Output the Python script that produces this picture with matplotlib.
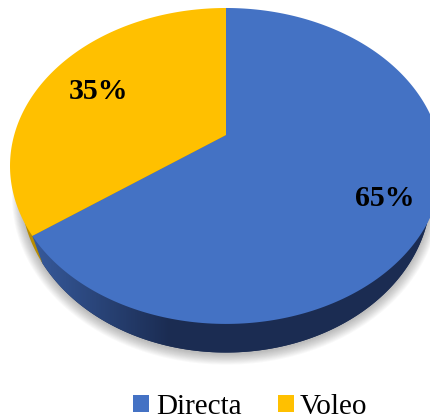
import matplotlib
matplotlib.use('Agg')
import matplotlib.pyplot as plt
from matplotlib.colors import LinearSegmentedColormap
from matplotlib.patches import Patch
import numpy as np

categories = ['Directa', 'Voleo']
values = [65, 35]
labels = ['65%', '35%']
colors = ['#4472c4', '#ffc000']
wall_colors = ['#1b2c52', '#b88c00']

# pie geometry in pixels, circle tilted in perspective
APEX_X, APEX_Y = 226, 135
K = 0.196
P = 151.9
Q = 211.8
# lower rim is a smaller ellipse pushed down
RIM_Y, RIM_P, RIM_Q = 160, 154.8, 201


def project(theta, cy=APEX_Y, p=P, q=Q):
    x = q * np.sin(theta) / (1 + K * np.cos(theta))
    y = p * np.cos(theta) / (1 + K * np.cos(theta))
    return APEX_X + x, cy - y


fig, ax = plt.subplots(figsize=(4.31, 4.19), dpi=100)
ax.set_position([0, 0, 1, 1])
ax.axis('off')

# soft shadow under the wall
circle = np.linspace(0, 2 * np.pi, 300)
for i in range(12):
    grow = 1.0 + 0.004 * (11 - i)
    sx, sy = project(circle, RIM_Y + 2 + 0.15 * (11 - i), RIM_P * grow, RIM_Q * grow)
    ax.fill(sx, sy, color='#404040', alpha=0.03, lw=0, zorder=1)

shares = np.array(values) / sum(values)
ends = np.cumsum(shares) * 2 * np.pi
starts = ends - shares * 2 * np.pi

# side wall: sectors of the lower rim, top face hides the rest
for i, (start, end, wall) in enumerate(zip(starts, ends, wall_colors)):
    t = np.linspace(start, end, 240)
    rx, ry = project(t, RIM_Y, RIM_P, RIM_Q)
    px = np.r_[APEX_X, rx]
    py = np.r_[RIM_Y, ry]
    if i == 0:
        # close along the cut edge up to the top face corner
        cx, cy = project(np.array([end]))
        px = np.r_[px, cx]
        py = np.r_[py, cy]
    poly = ax.fill(px, py, color=wall, lw=0, zorder=2)[0]
    if i == 0:
        cmap = LinearSegmentedColormap.from_list('wall', ['#36599a', '#1b2c52'])
        ramp = np.clip((np.arange(431) - 35) / 135, 0, 1).reshape(1, -1)
        im = ax.imshow(ramp, extent=[0, 431, 419, 0], cmap=cmap, aspect='auto', zorder=2.5)
        im.set_clip_path(poly)

# top face
for start, end, color in zip(starts, ends, colors):
    t = np.linspace(start, end, 240)
    fx, fy = project(t)
    ax.fill(np.r_[APEX_X, fx], np.r_[APEX_Y, fy], color=color, lw=0, zorder=3)

serif = 'Liberation Serif'
ax.text(385, 206, labels[0], fontsize=21.5, fontweight='bold', family=serif,
        ha='center', va='baseline', color='black', zorder=4)
ax.text(98.5, 99, labels[1], fontsize=21.5, fontweight='bold', family=serif,
        ha='center', va='baseline', color='black', zorder=4)

handles = [Patch(facecolor=c, edgecolor='none', linewidth=0, label=n) for c, n in zip(colors, categories)]
ax.legend(handles=handles, loc='center', bbox_to_anchor=(250.5 / 431, 1 - 407 / 419),
          ncol=2, frameon=False, handlelength=0.55, handleheight=0.55,
          handletextpad=0.22, columnspacing=1.24, borderpad=0, borderaxespad=0,
          prop={'family': serif, 'size': 21})

ax.set_xlim(0, 431)
ax.set_ylim(419, 0)
fig.savefig('out.png', dpi=100)
